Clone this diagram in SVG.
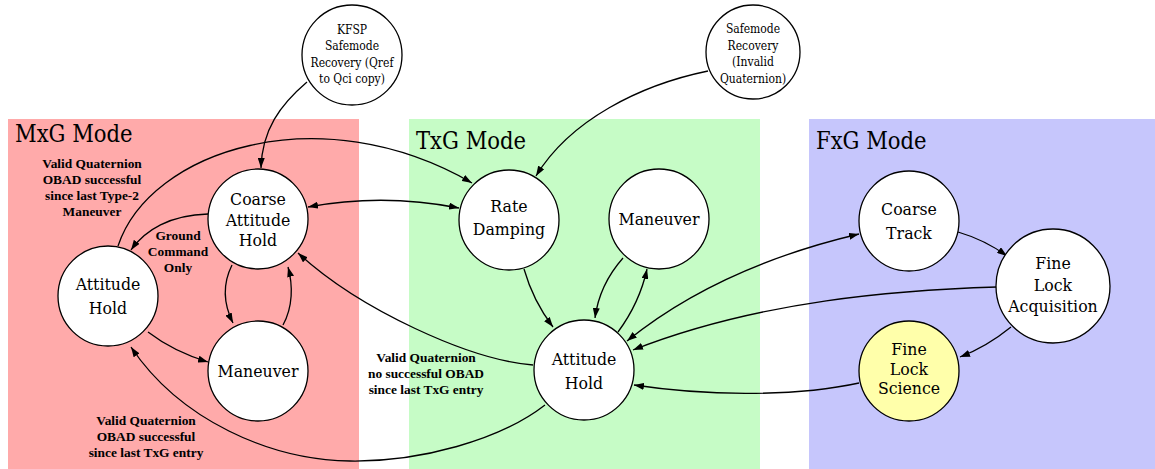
<svg xmlns="http://www.w3.org/2000/svg" width="1155" height="469" viewBox="0 0 1155 469">
<style>
.node circle{fill:#fff;stroke:#000;stroke-width:1.3}
.node text{font-family:"DejaVu Serif",serif;font-stretch:condensed;font-size:17.5px;text-anchor:middle;fill:#000}
.node text.sm{font-size:12px}
.cl{font-family:"DejaVu Serif",serif;font-stretch:condensed;font-size:23.5px;fill:#000}
.lbl{font-family:"Liberation Serif",serif;font-size:13.4px;font-weight:bold;text-anchor:middle;fill:#000}
#edges path{fill:none;stroke:#000;stroke-width:1.3;marker-end:url(#ah)}
#edges path.bi{marker-start:url(#ahs)}
</style>
<defs>
<marker id="ah" viewBox="0 0 10 7" refX="10" refY="3.5" markerWidth="10" markerHeight="7" markerUnits="userSpaceOnUse" orient="auto"><path d="M0,0 L10,3.5 L0,7 z" fill="#000"/></marker>
<marker id="ahs" viewBox="0 0 10 7" refX="10" refY="3.5" markerWidth="10" markerHeight="7" markerUnits="userSpaceOnUse" orient="auto-start-reverse"><path d="M0,0 L10,3.5 L0,7 z" fill="#000"/></marker>
</defs>
<rect width="1155" height="469" fill="#fff"/>
<g id="clusters">
<g id="mxg"><rect x="8" y="119" width="351" height="350" fill="#ffaaaa"/><text class="cl" x="15" y="142">MxG Mode</text></g>
<g id="txg"><rect x="409" y="119" width="351" height="350" fill="#c6fcc6"/><text class="cl" x="416" y="149">TxG Mode</text></g>
<g id="fxg"><rect x="809" y="119" width="346" height="350" fill="#c6c6fc"/><text class="cl" x="816" y="149">FxG Mode</text></g>
</g>
<g id="edges">
<path d="M307,82 C280,105 262,130 261,168"/>
<path d="M708,71 C640,85 570,120 536,176"/>
<path d="M118,246 C150,150 320,95 472,183"/>
<path class="bi" d="M308,207 Q383,193 459,208"/>
<path d="M208,214 C170,215 145,230 131,250"/>
<path d="M232,265 C222,285 224,305 233,323"/>
<path d="M283,325 C293,307 293,285 288,267"/>
<path d="M148,332 C165,345 185,355 208,362"/>
<path d="M545,405 C500,440 420,462 350,461 C270,460 180,420 131,347"/>
<path d="M533,365 C470,360 360,310 298,253"/>
<path d="M524,269 C530,290 540,310 553,327"/>
<path d="M623,258 C608,275 598,295 595,318"/>
<path d="M618,332 C632,313 642,292 647,269"/>
<path class="bi" d="M627,341 C690,290 770,255 859,234"/>
<path d="M997,287 C900,290 760,300 633,350"/>
<path d="M859,383 C790,398 700,395 634,385"/>
<path d="M958,232 C975,237 992,245 1007,256"/>
<path d="M1011,327 C995,340 978,350 960,357"/>
</g>
<g id="labels">
<text class="lbl"><tspan x="92" y="168">Valid Quaternion</tspan><tspan x="92" y="184">OBAD successful</tspan><tspan x="92" y="200">since last Type-2</tspan><tspan x="92" y="216">Maneuver</tspan></text>
<text class="lbl"><tspan x="178" y="240">Ground</tspan><tspan x="178" y="256">Command</tspan><tspan x="178" y="272">Only</tspan></text>
<text class="lbl"><tspan x="426" y="362">Valid Quaternion</tspan><tspan x="426" y="378">no successful OBAD</tspan><tspan x="426" y="394">since last TxG entry</tspan></text>
<text class="lbl"><tspan x="146" y="425">Valid Quaternion</tspan><tspan x="146" y="441">OBAD successful</tspan><tspan x="146" y="457">since last TxG entry</tspan></text>
</g>
<g id="kfsp" class="node"><circle cx="352" cy="55" r="50"/><text class="sm"><tspan x="352" y="34">KFSP</tspan><tspan x="352" y="50">Safemode</tspan><tspan x="352" y="66.5">Recovery (Qref</tspan><tspan x="352" y="83">to Qci copy)</tspan></text></g>
<g id="safemode" class="node"><circle cx="753" cy="52" r="47"/><text class="sm"><tspan x="753" y="33">Safemode</tspan><tspan x="753" y="49.5">Recovery</tspan><tspan x="753" y="66">(Invalid</tspan><tspan x="753" y="82.5">Quaternion)</tspan></text></g>
<g id="mxg_coarse" class="node"><circle cx="258" cy="219" r="50"/><text><tspan x="258" y="205">Coarse</tspan><tspan x="258" y="225.5">Attitude</tspan><tspan x="258" y="246">Hold</tspan></text></g>
<g id="mxg_att" class="node"><circle cx="108" cy="296" r="50"/><text><tspan x="108" y="290">Attitude</tspan><tspan x="108" y="314">Hold</tspan></text></g>
<g id="mxg_man" class="node"><circle cx="258" cy="371" r="50"/><text x="258" y="377">Maneuver</text></g>
<g id="txg_rate" class="node"><circle cx="509" cy="220" r="50"/><text><tspan x="509" y="212">Rate</tspan><tspan x="509" y="235">Damping</tspan></text></g>
<g id="txg_man" class="node"><circle cx="659" cy="219" r="50"/><text x="659" y="225">Maneuver</text></g>
<g id="txg_att" class="node"><circle cx="584" cy="370" r="50"/><text><tspan x="584" y="365">Attitude</tspan><tspan x="584" y="389">Hold</tspan></text></g>
<g id="fxg_coarse" class="node"><circle cx="909" cy="221" r="50"/><text><tspan x="909" y="215">Coarse</tspan><tspan x="909" y="239">Track</tspan></text></g>
<g id="fxg_acq" class="node"><circle cx="1053" cy="286" r="57"/><text><tspan x="1053" y="269">Fine</tspan><tspan x="1053" y="291">Lock</tspan><tspan x="1053" y="312">Acquisition</tspan></text></g>
<g id="fxg_sci" class="node"><circle cx="909" cy="371" r="50" style="fill:#ffffaa"/><text><tspan x="909" y="355">Fine</tspan><tspan x="909" y="375">Lock</tspan><tspan x="909" y="394">Science</tspan></text></g>
</svg>
